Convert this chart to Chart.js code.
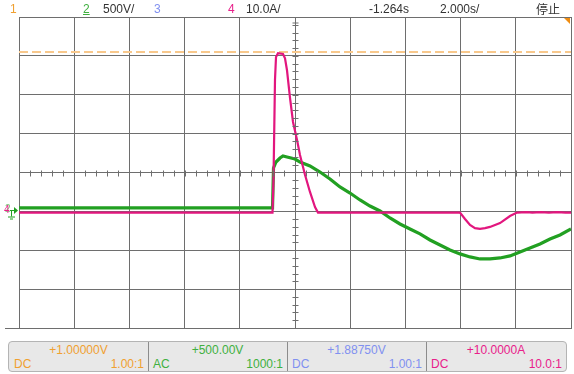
<!DOCTYPE html>
<html>
<head>
<meta charset="utf-8">
<script src="https://cdn.jsdelivr.net/npm/chart.js@4"></script>
<style>
  body { margin: 0; background: #fff; font-family: "Liberation Sans", Arial, sans-serif; }
  #wrap { position: relative; width: 574px; height: 374px; overflow: hidden; }
  #plot { position: absolute; left: 0; top: 0; width: 574px; height: 335px; }
  .t { position: absolute; font-size: 12px; line-height: 14px; white-space: nowrap; color: #333; }
  #foot { position: absolute; left: 8px; top: 341px; width: 557px; height: 29px;
          background: #e8e8e8; border: 1px solid #b4b4b4; border-radius: 4px; }
  .cell { position: absolute; top: 0; height: 29px; width: 139px; border-right: 1px solid #8c8c8c; }
  .cell:last-child { border-right: none; }
  .cell .v { position: absolute; top: 1px; left: 0; right: 0; text-align: center; }
  .cell .c { position: absolute; top: 15px; left: 5px; }
  .cell .r { position: absolute; top: 15px; right: 4px; }
  .cell span { font-size: 12px; line-height: 14px; }
</style>
</head>
<body>
<div id="wrap">
  <div id="plot"><canvas id="scope" width="574" height="335"></canvas></div>

  <div class="t" style="left:10px;top:2px;color:#f0a030">1</div>
  <div class="t" style="left:83px;top:2px;color:#40b040;text-decoration:underline">2</div>
  <div class="t" style="left:103px;top:2px">500V/</div>
  <div class="t" style="left:154px;top:2px;color:#8090f0">3</div>
  <div class="t" style="left:228px;top:2px;color:#e8208a">4</div>
  <div class="t" style="left:246px;top:2px">10.0A/</div>
  <div class="t" style="left:369px;top:2px">-1.264s</div>
  <div class="t" style="left:440px;top:2px">2.000s/</div>
  <div class="t" style="left:536px;top:2px;font-family:'Noto Sans CJK SC'">停止</div>

  <div id="foot">
    <div class="cell" style="left:0"><span class="v" style="color:#f0a030">+1.00000V</span><span class="c" style="color:#f0a030">DC</span><span class="r" style="color:#f0a030">1.00:1</span></div>
    <div class="cell" style="left:139px"><span class="v" style="color:#40b040">+500.00V</span><span class="c" style="color:#40b040">AC</span><span class="r" style="color:#40b040">1000:1</span></div>
    <div class="cell" style="left:278px"><span class="v" style="color:#8090f0">+1.88750V</span><span class="c" style="color:#8090f0">DC</span><span class="r" style="color:#8090f0">1.00:1</span></div>
    <div class="cell" style="left:417px;width:140px"><span class="v" style="color:#e8208a">+10.0000A</span><span class="c" style="color:#e8208a">DC</span><span class="r" style="color:#e8208a">10.0:1</span></div>
  </div>
</div>

<script>
// time in s, relative to screen centre (2 s/div, 10 div)
const ch4Time = [-10, -0.815, -0.779, -0.725, -0.688, -0.616, -0.435, -0.362, -0.29, -0.181, -0.072,
                 0.072, 0.181, 0.362, 0.543, 0.725, 0.833, 5.978, 6.159, 6.341, 6.522, 6.703, 6.884,
                 7.065, 7.428, 7.79, 8.043, 8.4, 8.6, 8.9, 9.2, 9.5, 9.8, 10];
// ch4 current, A (10 A/div)
const ch4Amps = [-0.3, -0.3, 8.1, 33.8, 39.7, 40.7, 40.5, 39.4, 36.3, 29.2, 23.0,
                 18.4, 14.5, 9.4, 5.0, 1.1, -0.3, -0.3, -1.95, -3.5, -4.3, -4.5, -4.3,
                 -4.0, -3.0, -1.2, -0.3, -0.2, -0.3, -0.2, -0.3, -0.2, -0.3, -0.3];

const ch2Time = [-10, -0.815, -0.779, -0.688, -0.543, -0.435, -0.29, 0, 0.181, 0.543, 0.906, 1.268,
                 1.63, 1.993, 2.355, 2.717, 3.08, 3.442, 3.804, 4.167, 4.529, 4.891, 5.254, 5.616,
                 5.978, 6.341, 6.703, 7.065, 7.428, 7.79, 8.152, 8.514, 8.877, 9.239, 9.601, 10];
// ch2 voltage, V (500 V/div)
const ch2Volts = [44, 44, 558, 635, 686, 712, 699, 673, 635, 584, 506, 417,
                  314, 236, 147, 69, 5, -85, -162, -226, -290, -368, -432, -496,
                  -547, -586, -612, -612, -599, -573, -522, -470, -419, -355, -303, -226];

const ch2PerDiv = 500;
const ch4PerDiv = 10;
const groundDiv = -1;      // both channel ground markers
const trigLevelDiv = 3.1;  // dashed orange level
const timeTicks = [-10, -8, -6, -4, -2, 0, 2, 4, 6, 8, 10];
const divTicks = [-4, -3, -2, -1, 0, 1, 2, 3, 4];

const GRID = '#6e6e6e';
const PINK = 'rgb(226,22,126)';
const GREEN = 'rgb(34,160,34)';

const pinkData = ch4Time.map((t, i) => ({x: t, y: ch4Amps[i] / ch4PerDiv + groundDiv}));
const greenData = ch2Time.map((t, i) => ({x: t, y: ch2Volts[i] / ch2PerDiv + groundDiv}));

const scopeDeco = {
    id: 'scopeDeco',
    afterDraw(chart) {
        const ctx = chart.ctx;
        const xs = chart.scales.x, ys = chart.scales.y;
        const a = chart.chartArea;
        const cx = Math.round(xs.getPixelForValue(0)) + 0.5;
        const cy = Math.round(ys.getPixelForValue(0)) + 0.5;
        ctx.save();
        ctx.strokeStyle = GRID;
        ctx.lineWidth = 1;
        ctx.beginPath();
        for (let v = -4; v <= 4.001; v += 0.2) {
            const y = Math.round(ys.getPixelForValue(v)) + 0.5;
            ctx.moveTo(cx - 3, y); ctx.lineTo(cx + 3, y);
        }
        for (let t = -10; t <= 10.001; t += 0.4) {
            const x = Math.round(xs.getPixelForValue(t)) + 0.5;
            ctx.moveTo(x, cy - 3); ctx.lineTo(x, cy + 3);
        }
        // trigger position marker
        ctx.moveTo(cx, a.top); ctx.lineTo(cx, a.top + 10);
        ctx.moveTo(cx - 3, a.top + 6); ctx.lineTo(cx + 3, a.top + 6);
        // bottom frame runs out to the left
        ctx.moveTo(5, Math.round(a.bottom) + 0.5); ctx.lineTo(a.left, Math.round(a.bottom) + 0.5);
        ctx.stroke();

        // orange corner flag
        ctx.fillStyle = '#f08c10';
        ctx.beginPath();
        ctx.moveTo(a.right - 7, a.top + 1);
        ctx.lineTo(a.right - 1, a.top + 1);
        ctx.lineTo(a.right - 1, a.top + 7);
        ctx.closePath();
        ctx.fill();

        // ground markers for ch2 / ch4
        const gy = Math.round(ys.getPixelForValue(groundDiv)) - 0.5;
        ctx.font = '10px "Liberation Sans"';
        ctx.textBaseline = 'middle';
        ctx.fillStyle = '#7ac87a';
        ctx.fillText('2', 5, gy - 1);
        ctx.fillStyle = '#e8208a';
        ctx.fillText('4', 4, gy);
        ctx.strokeStyle = GREEN;
        ctx.fillStyle = GREEN;
        ctx.beginPath();
        ctx.moveTo(10, gy); ctx.lineTo(15, gy);
        ctx.moveTo(11.5, gy); ctx.lineTo(11.5, gy + 6);
        ctx.moveTo(8, gy + 6.5); ctx.lineTo(15, gy + 6.5);
        ctx.moveTo(10, gy + 8.5); ctx.lineTo(13, gy + 8.5);
        ctx.stroke();
        ctx.beginPath();
        ctx.moveTo(14, gy - 3.5); ctx.lineTo(18, gy); ctx.lineTo(14, gy + 3.5);
        ctx.closePath();
        ctx.fill();
        ctx.restore();
    }
};

new Chart(document.getElementById('scope').getContext('2d'), {
    type: 'line',
    data: {
        datasets: [
            {
                label: 'ch4',
                data: pinkData,
                borderColor: PINK,
                borderWidth: 2.2,
                pointRadius: 0,
                tension: 0
            },
            {
                label: 'ch2',
                data: greenData,
                borderColor: GREEN,
                borderWidth: 3.2,
                pointRadius: 0,
                tension: 0
            },
            {
                label: 'level',
                data: [{x: -10, y: trigLevelDiv}, {x: 10, y: trigLevelDiv}],
                borderColor: '#f8c88c',
                borderWidth: 2,
                borderDash: [9, 4],
                pointRadius: 0
            }
        ]
    },
    options: {
        responsive: false,
        animation: false,
        devicePixelRatio: 1,
        layout: { padding: { left: 19, top: 17, right: 3, bottom: 7 } },
        plugins: { legend: { display: false }, tooltip: { enabled: false } },
        scales: {
            x: {
                type: 'linear',
                min: -10, max: 10,
                afterBuildTicks: s => { s.ticks = timeTicks.map(v => ({value: v})); },
                afterFit: s => { s.height = 0; },
                ticks: { display: false },
                grid: { color: GRID, drawTicks: false },
                border: { color: GRID }
            },
            y: {
                min: -4, max: 4,
                afterBuildTicks: s => { s.ticks = divTicks.map(v => ({value: v})); },
                afterFit: s => { s.width = 0; },
                ticks: { display: false },
                grid: { color: GRID, drawTicks: false },
                border: { color: GRID }
            }
        }
    },
    plugins: [scopeDeco]
});
</script>
</body>
</html>
